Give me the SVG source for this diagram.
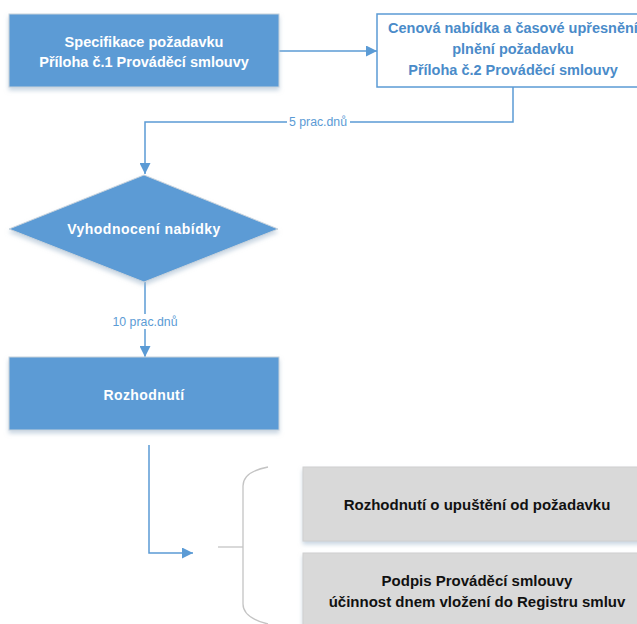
<svg xmlns="http://www.w3.org/2000/svg" width="637" height="624" viewBox="0 0 637 624">
  <defs>
    <filter id="sh" x="-10%" y="-10%" width="120%" height="140%">
      <feGaussianBlur in="SourceAlpha" stdDeviation="2"/>
      <feOffset dx="0" dy="3" result="b"/>
      <feFlood flood-color="#9fb6cc" flood-opacity="0.55"/>
      <feComposite in2="b" operator="in"/>
      <feMerge><feMergeNode/><feMergeNode in="SourceGraphic"/></feMerge>
    </filter>
    <marker id="arrB" viewBox="0 0 10 10" refX="10" refY="5" markerWidth="11" markerHeight="11" markerUnits="userSpaceOnUse" orient="auto">
      <path d="M0,0 L10,5 L0,10 z" fill="#5b9bd5"/>
    </marker>
  </defs>
  <style>
    .blue { fill: #5b9bd5; stroke: #c9d3dc; stroke-width: 1; }
    .gray { fill: #d9d9d9; stroke: #cfcfcf; stroke-width: 1; }
    .wt { font-family: "Liberation Sans", Arial, sans-serif; font-weight: bold; fill: #ffffff; text-anchor: middle; }
    .bt { font-family: "Liberation Sans", Arial, sans-serif; font-weight: bold; fill: #4a8bc9; text-anchor: middle; font-size: 14.5px; }
    .kt { font-family: "Liberation Sans", Arial, sans-serif; font-weight: bold; fill: #111111; text-anchor: middle; font-size: 15px; }
    .lbl { font-family: "Liberation Sans", Arial, sans-serif; fill: #5b9bd5; text-anchor: middle; font-size: 12.3px; }
    .con { fill: none; stroke: #5b9bd5; stroke-width: 1.5; }
    .brace { fill: none; stroke: #c4c4c4; stroke-width: 1.3; }
  </style>

  <g id="connectors">
    <line class="con" x1="279" y1="51" x2="377" y2="51" marker-end="url(#arrB)"/>
    <polyline class="con" points="513,87 513,122 145,122 145,174" marker-end="url(#arrB)"/>
    <rect x="287" y="115" width="63" height="14" fill="#ffffff"/>
    <text class="lbl" x="318" y="126">5 prac.dnů</text>
    <line class="con" x1="145" y1="282" x2="145" y2="357" marker-end="url(#arrB)"/>
    <rect x="107" y="314" width="76" height="15" fill="#ffffff"/>
    <text class="lbl" x="145" y="326">10 prac.dnů</text>
    <polyline class="con" points="149,445 149,553 193,553" marker-end="url(#arrB)"/>
  </g>

  <g id="n1">
    <rect class="blue" x="9" y="14" width="270" height="73" filter="url(#sh)"/>
    <text class="wt" font-size="14.5px" x="144" y="47">Specifikace požadavku</text>
    <text class="wt" font-size="14.5px" x="144" y="67">Příloha č.1 Prováděcí smlouvy</text>
  </g>

  <g id="n2">
    <rect x="377" y="14" width="272" height="73" fill="#ffffff" stroke="#5b9bd5" stroke-width="1.5"/>
    <text class="bt" x="513" y="33">Cenová nabídka a časové upřesnění</text>
    <text class="bt" x="513" y="54">plnění požadavku</text>
    <text class="bt" x="513" y="75">Příloha č.2 Prováděcí smlouvy</text>
  </g>

  <g id="n3">
    <polygon class="blue" points="144,175 278,229 144,282 9,229" filter="url(#sh)"/>
    <text class="wt" font-size="14px" letter-spacing="0.5" x="144" y="234">Vyhodnocení nabídky</text>
  </g>

  <g id="n4">
    <rect class="blue" x="9" y="357" width="270" height="73" filter="url(#sh)"/>
    <text class="wt" font-size="14px" letter-spacing="0.4" x="144" y="400">Rozhodnutí</text>
  </g>

  <g id="brace">
    <path class="brace" d="M268,467 C252,470 243,476 243,486 L243,604 C243,614 252,620 268,624"/>
    <line class="brace" x1="218" y1="547" x2="243" y2="547"/>
  </g>

  <g id="n5">
    <rect class="gray" x="303" y="467" width="348" height="74" filter="url(#sh)"/>
    <text class="kt" x="477" y="510">Rozhodnutí o upuštění od požadavku</text>
  </g>

  <g id="n6">
    <rect class="gray" x="303" y="553" width="348" height="80" filter="url(#sh)"/>
    <text class="kt" x="477" y="586">Podpis Prováděcí smlouvy</text>
    <text class="kt" x="477" y="607">účinnost dnem vložení do Registru smluv</text>
  </g>
</svg>
